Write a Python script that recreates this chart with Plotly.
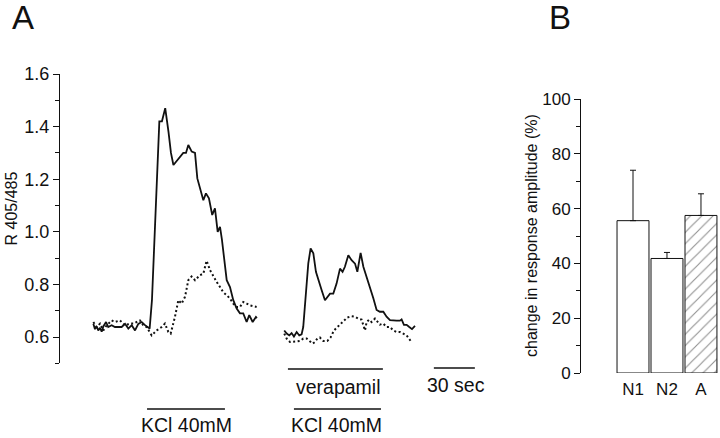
import plotly.graph_objects as go

W, H = 720, 438

# ---------------- Panel A data (time in s, ratio R405/485) ----------------
t_ctrl = [24.4, 25.6, 26.9, 28.0, 29.3, 30.5, 31.7, 33.7, 35.3, 37.8, 40.2, 42.7, 45.1, 47.6,
          50.0, 52.5, 54.9, 57.3, 59.8, 62.2, 65.6, 67.3, 72.7, 74.6, 77.0, 79.4, 81.2, 83.0,
          85.6, 87.8, 90.2, 92.2, 93.9, 96.4, 98.8, 100.5, 102.4, 104.9, 106.8, 109.0, 111.4,
          113.4, 115.4, 117.1, 118.5, 120.4, 122.0, 124.4, 126.8, 129.3, 131.7, 134.1, 136.6,
          138.5, 141.0, 143.4, 144.1]
r_ctrl_solid = [0.65, 0.63, 0.64, 0.625, 0.635, 0.62, 0.64, 0.657, 0.638, 0.645, 0.638, 0.638,
                0.638, 0.65, 0.632, 0.645, 0.625, 0.65, 0.657, 0.645, 0.632, 0.74, 1.42, 1.42,
                1.47, 1.38, 1.30, 1.254, 1.27, 1.285, 1.30, 1.30, 1.33, 1.305, 1.30, 1.203,
                1.17, 1.12, 1.146, 1.127, 1.064, 1.089, 1.0, 1.019, 0.97, 0.88, 0.816, 0.79,
                0.74, 0.708, 0.69, 0.69, 0.657, 0.683, 0.657, 0.676, 0.672]

t_ctrl_dot = [24.4, 26.8, 29.3, 31.7, 34.1, 37.8, 40.2, 43.9, 47.6, 51.2, 53.7, 56.1, 58.5,
              61.0, 63.4, 67.1, 70.7, 74.4, 76.8, 79.3, 81.0, 84.1, 86.6, 89.0, 91.5, 93.9,
              96.3, 98.8, 102.4, 104.9, 107.3, 109.8, 112.2, 114.6, 117.1, 119.5, 122.0,
              124.4, 126.8, 129.3, 131.7, 134.1, 136.6, 139.0, 141.5, 143.9]
r_ctrl_dot = [0.657, 0.638, 0.651, 0.625, 0.644, 0.663, 0.657, 0.663, 0.644, 0.651, 0.651,
              0.657, 0.663, 0.644, 0.638, 0.606, 0.625, 0.638, 0.651, 0.619, 0.613, 0.676,
              0.74, 0.727, 0.753, 0.816, 0.83, 0.816, 0.835, 0.841, 0.89, 0.854, 0.829, 0.81,
              0.79, 0.77, 0.759, 0.746, 0.727, 0.714, 0.714, 0.733, 0.727, 0.72, 0.717, 0.714]

t_vera = [164.1, 165.9, 167.8, 169.5, 171.2, 173.2, 175.1, 176.8, 178.0, 179.9, 181.7, 183.4,
          185.4, 187.3, 189.0, 191.5, 193.9, 195.6, 197.6, 200.0, 202.4, 204.9, 206.8, 208.5,
          211.0, 213.4, 215.9, 217.6, 220.0, 222.0, 224.4, 226.8, 229.3, 231.7, 234.1, 236.6,
          239.0, 241.5, 243.9, 246.3, 248.8, 250.0, 251.7, 253.7, 255.6, 257.6, 259.8]
r_vera_solid = [0.625, 0.613, 0.606, 0.615, 0.602, 0.619, 0.606, 0.61, 0.638, 0.753, 0.88,
                0.937, 0.918, 0.848, 0.823, 0.778, 0.74, 0.753, 0.765, 0.765, 0.803, 0.86,
                0.848, 0.867, 0.911, 0.892, 0.879, 0.848, 0.92, 0.867, 0.83, 0.785, 0.747,
                0.703, 0.696, 0.696, 0.677, 0.664, 0.662, 0.662, 0.662, 0.667, 0.646, 0.646,
                0.638, 0.63, 0.642]

t_vera_dot = [164.1, 165.9, 168.3, 170.7, 173.2, 175.6, 178.0, 180.5, 182.9, 184.9, 186.6,
              188.3, 190.2, 192.7, 195.6, 198.0, 200.5, 202.9, 205.4, 207.8, 210.2, 213.4,
              215.9, 218.3, 220.7, 223.2, 224.4, 226.3, 228.0, 230.5, 232.2, 234.1, 236.6,
              239.0, 241.5, 243.9, 246.3, 248.8, 251.2, 253.7, 256.6]
r_vera_dot = [0.613, 0.594, 0.581, 0.581, 0.583, 0.585, 0.594, 0.594, 0.585, 0.575, 0.581,
              0.594, 0.598, 0.585, 0.585, 0.598, 0.625, 0.638, 0.65, 0.664, 0.674, 0.679,
              0.677, 0.67, 0.666, 0.625, 0.657, 0.666, 0.657, 0.67, 0.657, 0.647, 0.651,
              0.638, 0.638, 0.625, 0.619, 0.619, 0.613, 0.606, 0.585]

# stimulus / scale bars (start, end in s)
kcl1_bar = [63.7, 120.7]
kcl2_bar = [171.2, 234.9]
vera_bar = [166.8, 236.3]
scale_bar = [273.6, 303.6]

a_ticks = [0.6, 0.8, 1.0, 1.2, 1.4, 1.6]
a_ticktext = ["0.6", "0.8", "1.0", "1.2", "1.4", "1.6"]
a_minor = [0.5, 0.7, 0.9, 1.1, 1.3, 1.5]

# ---------------- Panel B data ----------------
b_cats = ["N1", "N2", "A"]
b_vals = [55.6, 41.8, 57.5]
b_err = [18.4, 2.2, 7.9]
b_ticks = [0, 20, 40, 60, 80, 100]
b_minor = [10, 30, 50, 70, 90]

# ---------------- helpers (pixel -> paper) ----------------
def px(x):
    return x / W

def py(y):
    return 1 - y / H

FONT = "Liberation Sans, Arial, Helvetica, sans-serif"
INK = "#111111"

fig = go.Figure()

line_solid = dict(color=INK, width=1.8)
line_dot = dict(color=INK, width=2, dash="2px,2.5px")

fig.add_trace(go.Scatter(x=t_ctrl, y=r_ctrl_solid, mode="lines", line=line_solid,
                         xaxis="x", yaxis="y", showlegend=False))
fig.add_trace(go.Scatter(x=t_ctrl_dot, y=r_ctrl_dot, mode="lines", line=line_dot,
                         xaxis="x", yaxis="y", showlegend=False))
fig.add_trace(go.Scatter(x=t_vera, y=r_vera_solid, mode="lines", line=line_solid,
                         xaxis="x", yaxis="y", showlegend=False))
fig.add_trace(go.Scatter(x=t_vera_dot, y=r_vera_dot, mode="lines", line=line_dot,
                         xaxis="x", yaxis="y", showlegend=False))

fig.add_trace(go.Bar(
    x=b_cats, y=b_vals, width=0.94, xaxis="x2", yaxis="y2", showlegend=False,
    marker=dict(color="white", line=dict(color=INK, width=1),
                pattern=dict(shape=["", "", "/"], fgcolor="#222222", bgcolor="white",
                             size=8, solidity=0.14)),
    error_y=dict(type="data", symmetric=False, array=b_err, arrayminus=[0, 0, 0],
                 color=INK, thickness=1, width=3),
))

axis_common = dict(showgrid=False, zeroline=False, showline=True, linecolor=INK, linewidth=1,
                   ticks="outside", tickcolor=INK, tickwidth=1, ticklen=6, automargin=False)

fig.update_layout(
    width=W, height=H, margin=dict(l=0, r=0, t=0, b=0, pad=0, autoexpand=False),
    paper_bgcolor="white", plot_bgcolor="white",
    font=dict(family=FONT, color=INK),
    xaxis=dict(domain=[px(60), px(500)], range=[0, 322], visible=False, anchor="y",
               automargin=False),
    yaxis=dict(domain=[py(363.3), py(74)], range=[0.5, 1.6], anchor="x",
               tickvals=a_ticks, ticktext=a_ticktext,
               tickfont=dict(size=18, color=INK, family=FONT),
               minor=dict(tickvals=a_minor, ticks="outside", ticklen=4, tickcolor=INK),
               **axis_common),
    xaxis2=dict(domain=[px(581), 1.0], range=[-1.53, 2.56], anchor="y2", type="category",
                showline=False, showgrid=False, zeroline=False, ticks="", automargin=False,
                ticklabelstandoff=4,
                tickfont=dict(size=17, color=INK, family=FONT)),
    yaxis2=dict(domain=[py(373), py(99)], range=[0, 100], anchor="x2",
                tickvals=b_ticks,
                tickfont=dict(size=17, color=INK, family=FONT),
                minor=dict(tickvals=b_minor, ticks="outside", ticklen=4, tickcolor=INK),
                **axis_common),
)

# stimulus and scale bars
bars = [(kcl1_bar, 409), (kcl2_bar, 409), (vera_bar, 369), (scale_bar, 368)]
for (x0, x1), ypix in bars:
    fig.add_shape(type="line", xref="x", yref="paper", x0=x0, x1=x1, y0=py(ypix), y1=py(ypix),
                  line=dict(color=INK, width=1.6))

def label(text, x, y, size, xref="x", angle=0):
    fig.add_annotation(text=text, x=x, y=y, xref=xref, yref="paper", showarrow=False,
                       xanchor="center", yanchor="middle", textangle=angle,
                       font=dict(size=size, color=INK, family=FONT))

label("KCl 40mM", sum(kcl1_bar) / 2 + 0.5, py(425), 19.5)
label("KCl 40mM", sum(kcl2_bar) / 2 - 0.5, py(425), 19.5)
label("verapamil", sum(vera_bar) / 2 + 2.0, py(387), 19.5)
label("30 sec", sum(scale_bar) / 2 + 1.5, py(385), 19.5)

label("A", px(22.5), py(18), 33, xref="paper")
label("B", px(560), py(18), 33, xref="paper")
label("R 405/485", px(10.5), py(209), 16, xref="paper", angle=-90)
label("change in response amplitude (%)", px(531), py(236), 16, xref="paper", angle=-90)

fig.write_html("out.html", config={"displayModeBar": False},
               post_script="document.body.style.margin='0';document.body.style.padding='0';")
